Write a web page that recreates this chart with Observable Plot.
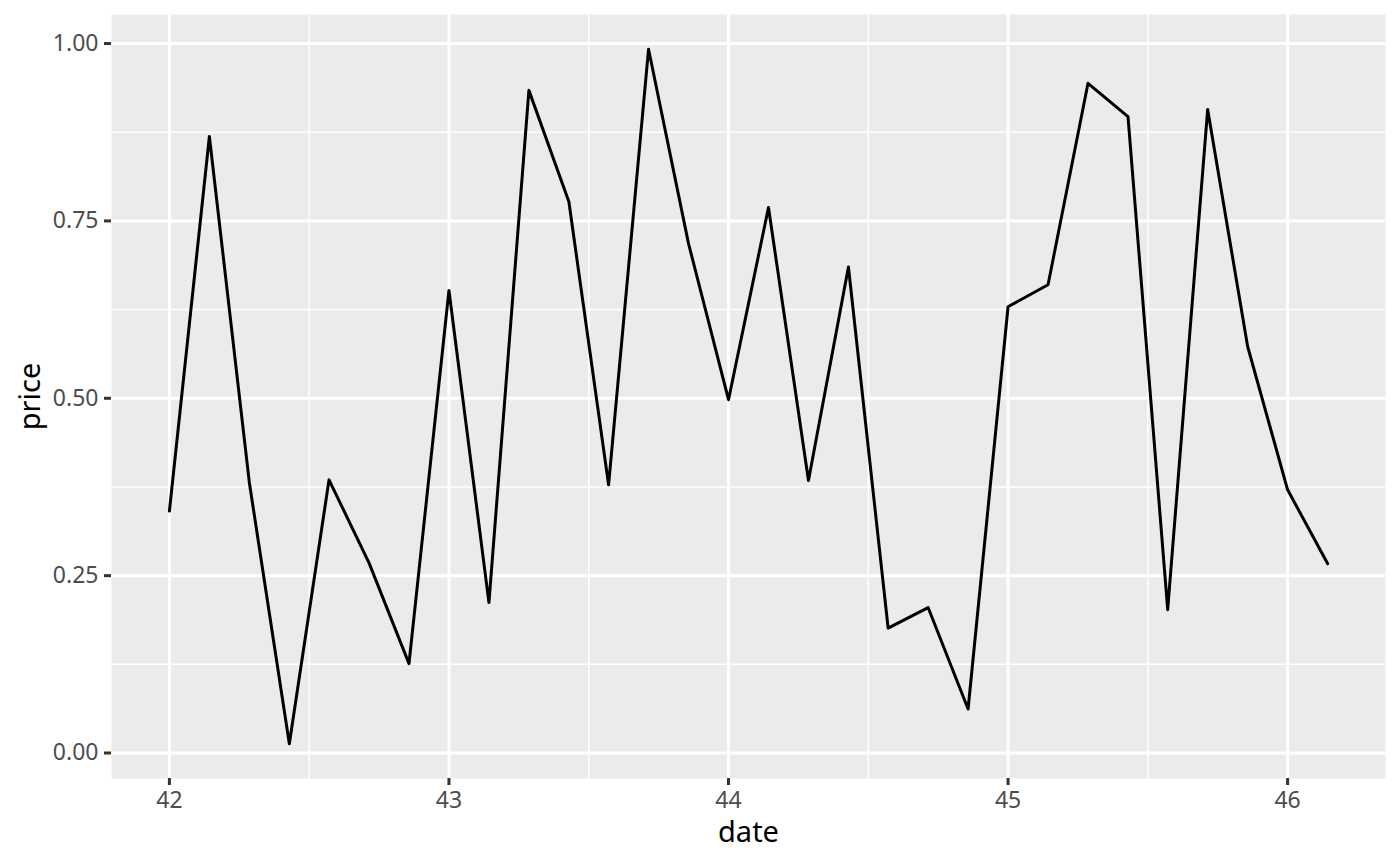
<!DOCTYPE html>
<html>
<head>
<meta charset="utf-8">
<script src="https://cdn.jsdelivr.net/npm/d3@7"></script>
<script src="https://cdn.jsdelivr.net/npm/@observablehq/plot@0.6"></script>
<style>
  html, body { margin: 0; padding: 0; background: #ffffff; }
  #chart { width: 1400px; height: 866px; }
</style>
</head>
<body>
<div id="chart"></div>
<script>
// Data
const dates = [42.000, 42.143, 42.286, 42.429, 42.571, 42.714, 42.857, 43.000, 43.143, 43.286,
               43.429, 43.571, 43.714, 43.857, 44.000, 44.143, 44.286, 44.429, 44.571, 44.714,
               44.857, 45.000, 45.143, 45.286, 45.429, 45.571, 45.714, 45.857, 46.000, 46.143];
const prices = [0.341, 0.869, 0.381, 0.013, 0.385, 0.268, 0.126, 0.652, 0.212, 0.934,
                0.777, 0.378, 0.992, 0.718, 0.498, 0.769, 0.384, 0.685, 0.176, 0.205,
                0.062, 0.629, 0.660, 0.944, 0.897, 0.202, 0.907, 0.573, 0.371, 0.267];
const xMajor = [42, 43, 44, 45, 46];
const xMinor = [41.5, 42.5, 43.5, 44.5, 45.5, 46.5];
const yMajor = [0, 0.25, 0.5, 0.75, 1.0];
const yMinor = [0.125, 0.375, 0.625, 0.875];
const yLabels = ["0.00", "0.25", "0.50", "0.75", "1.00"];

const data = dates.map((d, i) => ({date: d, price: prices[i]}));

function expand(ext) {
  const r = ext[1] - ext[0];
  return [ext[0] - 0.05 * r, ext[1] + 0.05 * r];
}
const xDomain = expand(d3.extent(dates));
const yDomain = expand(d3.extent(prices));

const chart = Plot.plot({
  width: 1400,
  height: 866,
  marginLeft: 111,
  marginRight: 15,
  marginTop: 14,
  marginBottom: 88,
  style: {fontFamily: "'Noto Sans', 'Open Sans', sans-serif", background: "#ffffff"},
  x: {domain: xDomain},
  y: {domain: yDomain},
  marks: [
    Plot.frame({fill: "#EBEBEB", stroke: null}),
    Plot.ruleX(xMinor.filter(v => v >= xDomain[0] && v <= xDomain[1]), {stroke: "#ffffff", strokeWidth: 1.5}),
    Plot.ruleY(yMinor, {stroke: "#ffffff", strokeWidth: 1.5}),
    Plot.ruleX(xMajor, {stroke: "#ffffff", strokeWidth: 3}),
    Plot.ruleY(yMajor, {stroke: "#ffffff", strokeWidth: 3}),
    Plot.line(data, {x: "date", y: "price", stroke: "#000000", strokeWidth: 3, strokeLinejoin: "round"}),
    Plot.axisX(xMajor, {tickSize: 7, tickPadding: 6, fontSize: 23, stroke: "#333333", strokeWidth: 3, fill: "#4D4D4D", label: null, tickFormat: d => String(d)}),
    Plot.axisY(yMajor, {tickSize: 7, tickPadding: 6, fontSize: 23, stroke: "#333333", strokeWidth: 3, fill: "#4D4D4D", label: null, tickFormat: (d, i) => yLabels[i]}),
    Plot.text(["date"], {frameAnchor: "bottom", dy: 54, lineAnchor: "middle", textAnchor: "middle", fontSize: 29, fill: "#000000"}),
    Plot.text(["price"], {frameAnchor: "left", dx: -81, rotate: -90, lineAnchor: "middle", textAnchor: "middle", fontSize: 29, fill: "#000000"})
  ]
});
document.getElementById("chart").appendChild(chart);
</script>
</body>
</html>
